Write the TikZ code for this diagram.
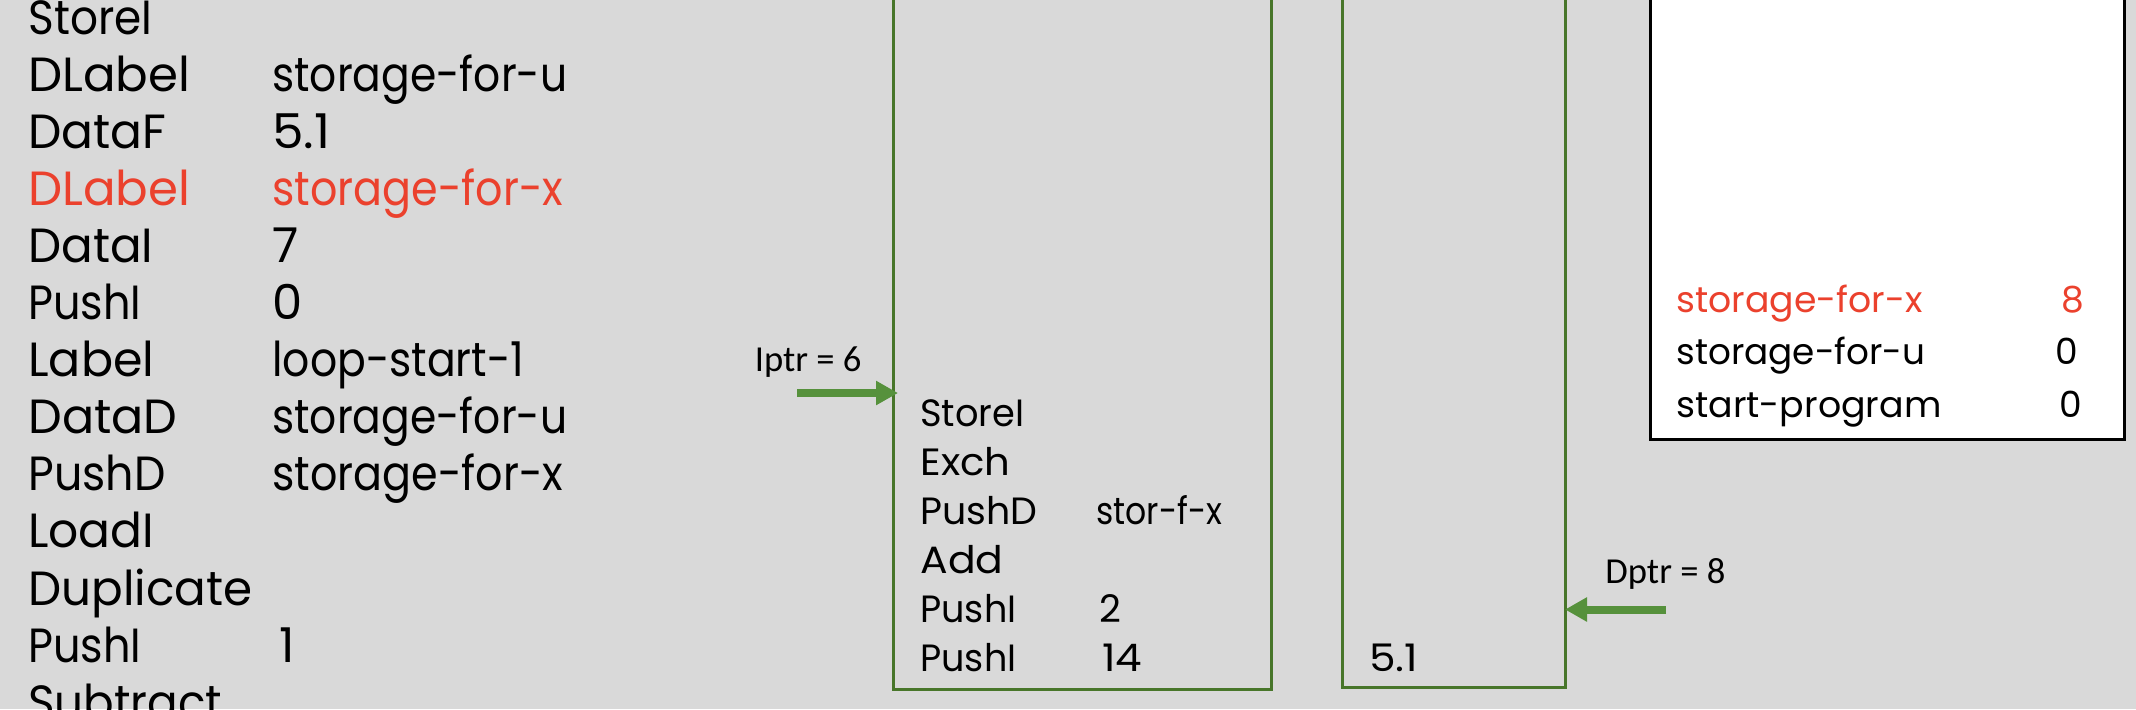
\documentclass[tikz,border=0pt]{standalone}
\usepackage{fontspec}
\usepackage{graphicx}
\setmainfont{Poppins}
\newfontfamily\calib{Carlito}
\usetikzlibrary{arrows.meta}
\newcommand\fw[2]{\resizebox{#1pt}{\height}{#2}}
\definecolor{bg}{RGB}{217,217,217}
\definecolor{boxgreen}{RGB}{72,118,42}
\definecolor{arrgreen}{RGB}{86,145,60}
\definecolor{hired}{RGB}{235,65,45}
\tikzset{
  listtxt/.style={anchor=base west,inner sep=0pt,font=\fontsize{24}{24}\selectfont},
  boxtxt/.style={anchor=base west,inner sep=0pt,font=\fontsize{19}{19}\selectfont},
  symtxt/.style={anchor=base west,inner sep=0pt,font=\fontsize{18}{18}\selectfont},
  symnum/.style={anchor=base,inner sep=0pt,font=\fontsize{18}{18}\selectfont},
  ptrtxt/.style={anchor=base west,inner sep=0pt,font=\calib\fontsize{18.3}{18.3}\selectfont},
  membox/.style={draw=boxgreen,line width=1.5pt,anchor=south west,inner sep=0pt,outer sep=0pt},
  symbox/.style={draw=black,fill=white,line width=1.5pt,anchor=south west,inner sep=0pt,outer sep=0pt},
  ptrarrow/.style={draw=arrgreen,line width=4pt,-{Triangle[length=11pt,width=11.5pt]}},
}
\begin{document}
\begin{tikzpicture}[x=0.5pt,y=-0.5pt]
\useasboundingbox[fill=bg] (0,0) rectangle (2136,709);
% left listing
\node[listtxt] (l1a) at (28,34) {\fw{62}{StoreI}};
\node[listtxt] (l2a) at (28,91.1) {\fw{81}{DLabel}};
\node[listtxt] (l2b) at (272,91.1) {\fw{147.5}{storage-for-u}};
\node[listtxt] (l3a) at (28,148.2) {\fw{69}{DataF}};
\node[listtxt] (l3b) at (272,148.2) {\fw{29}{5.1}};
\node[listtxt,text=hired] (l4a) at (28,205.3) {\fw{81}{DLabel}};
\node[listtxt,text=hired] (l4b) at (272,205.3) {\fw{145.5}{storage-for-x}};
\node[listtxt] (l5a) at (28,262.4) {\fw{62.5}{DataI}};
\node[listtxt] (l5b) at (272,262.4) {7};
\node[listtxt] (l6a) at (28,319.5) {\fw{56.5}{PushI}};
\node[listtxt] (l6b) at (272,319.5) {0};
\node[listtxt] (l7a) at (28,376.6) {\fw{63}{Label}};
\node[listtxt] (l7b) at (272,376.6) {\fw{126}{loop-start-1}};
\node[listtxt] (l8a) at (28,433.7) {\fw{74.5}{DataD}};
\node[listtxt] (l8b) at (272,433.7) {\fw{147.5}{storage-for-u}};
\node[listtxt] (l9a) at (28,490.8) {\fw{68.5}{PushD}};
\node[listtxt] (l9b) at (272,490.8) {\fw{145.5}{storage-for-x}};
\node[listtxt] (l10a) at (28,547.9) {\fw{63}{LoadI}};
\node[listtxt] (l11a) at (28,605) {\fw{112}{Duplicate}};
\node[listtxt] (l12a) at (28,662.1) {\fw{56.5}{PushI}};
\node[listtxt] (l12b) at (279,662.1) {1};
\node[listtxt] (l13a) at (28,719.2) {\fw{97}{Subtract}};
% instruction memory
\node[membox,minimum width=189pt,minimum height=360pt] (imem) at (893,689) {};
\node[boxtxt] (i1) at (920,426) {\fw{52}{StoreI}};
\node[boxtxt] (i2) at (920,475) {\fw{45}{Exch}};
\node[boxtxt] (i3) at (920,524) {\fw{58.5}{PushD}};
\node[boxtxt] (i3b) at (1096,524) {\fw{63}{stor-f-x}};
\node[boxtxt] (i4) at (920,573.5) {\fw{41.5}{Add}};
\node[boxtxt] (i5) at (920,622.5) {\fw{48}{PushI}};
\node[boxtxt] (i5b) at (1099,622.5) {2};
\node[boxtxt] (i6) at (920,671.5) {\fw{48}{PushI}};
\node[boxtxt] (i6b) at (1102,671.5) {\fw{20}{14}};
% data memory
\node[membox,minimum width=111.5pt,minimum height=360pt] (dmem) at (1342,687) {};
\node[boxtxt] (d1) at (1369,671.5) {\fw{24.5}{5.1}};
% symbol table
\node[symbox,minimum width=237pt,minimum height=240pt] (sym) at (1650,439.5) {};
\node[symtxt,text=hired] (s1) at (1676,312) {\fw{123}{storage-for-x}};
\node[symnum,text=hired] (s1n) at (2073,312) {8};
\node[symtxt] (s2) at (1676,364.5) {\fw{124.5}{storage-for-u}};
\node[symnum] (s2n) at (2066.5,364.5) {0};
\node[symtxt] (s3) at (1676,417) {\fw{132.5}{start-program}};
\node[symnum] (s3n) at (2071,417) {0};
% pointers
\node[ptrtxt] (iptr) at (754.5,371) {Iptr = 6};
\coordinate (iptrtail) at (797,393);
\draw[ptrarrow] (iptrtail) -- ([xshift=2.5pt]imem.west |- iptrtail);
\node[ptrtxt] (dptr) at (1605,583) {Dptr = 8};
\coordinate (dptrtail) at (1666,609.5);
\draw[ptrarrow] (dptrtail) -- (dmem.east |- dptrtail);
\end{tikzpicture}
\end{document}
